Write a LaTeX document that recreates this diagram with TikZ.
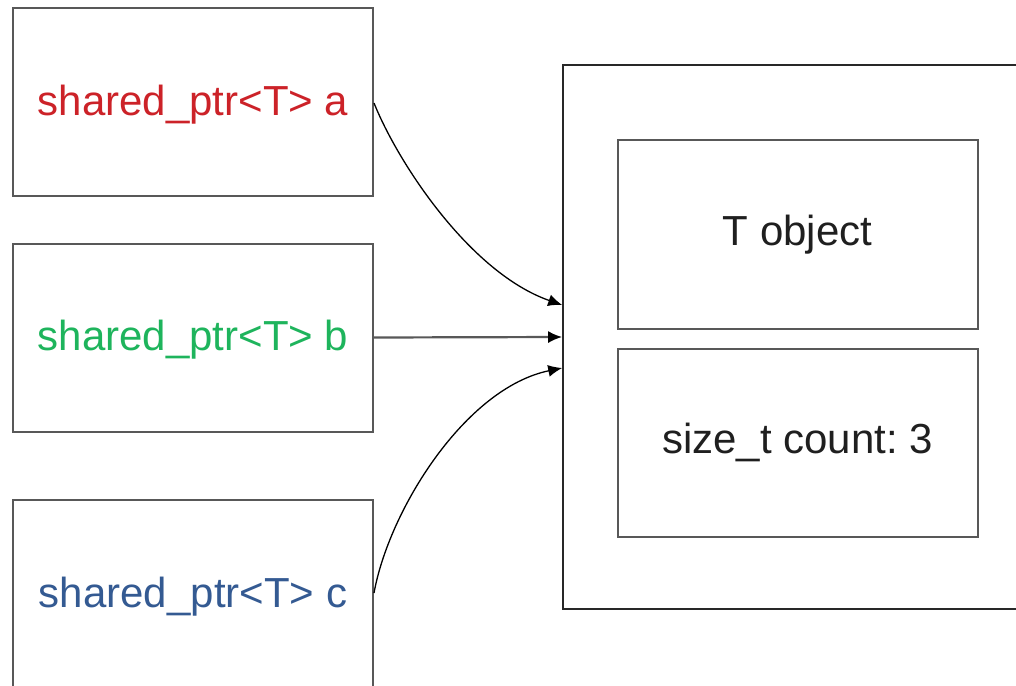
\documentclass[tikz,border=0pt]{standalone}
\usepackage{fontspec}
\setmainfont{Liberation Sans}
\usetikzlibrary{arrows.meta,calc}
\frenchspacing

\definecolor{ptrred}{RGB}{204,34,40}
\definecolor{ptrgreen}{RGB}{30,180,92}
\definecolor{ptrblue}{RGB}{52,90,146}
\definecolor{frame}{RGB}{88,88,88}
\definecolor{outer}{RGB}{40,40,40}

\tikzset{
  ptrbox/.style={draw=frame, line width=2pt, rectangle, inner sep=0pt,
    minimum width=360pt, minimum height=188pt,
    font=\fontsize{42}{50}\selectfont, text height=30pt, text depth=4pt},
  cellbox/.style={draw=frame, line width=2pt, rectangle, inner sep=0pt,
    minimum width=360pt, minimum height=189pt,
    font=\fontsize{42}{50}\selectfont, text=black!88, text height=30pt, text depth=9pt},
  blockbox/.style={draw=outer, line width=1.6pt, rectangle, inner sep=0pt},
  link/.style={draw=black, line width=1.3pt, -{Latex[length=14pt,width=12pt]}},
  straightlink/.style={draw=frame, line width=2.2pt, -{Latex[length=14pt,width=12pt,fill=black,color=black]}}
}

\begin{document}
\begin{tikzpicture}[x=1pt, y=-1pt]
  \useasboundingbox (0,0) rectangle (1016,685);
  \clip (0,0) rectangle (1016,685);

  % the three pointers
  \node[ptrbox, text=ptrred]   (a) at (193,102)   {shared\_ptr<T> a};
  \node[ptrbox, text=ptrgreen] (b) at (193,337.5) {shared\_ptr<T> b};
  \node[ptrbox, text=ptrblue]  (c) at (193,594)   {shared\_ptr<T> c};

  % the control block holding the object and its count
  \node[blockbox, minimum width=470pt, minimum height=544pt] (blk) at (798,337) {};
  \node[cellbox] (obj) at (797.5,234.5) {T object};
  \node[cellbox, minimum height=188pt] (cnt) at (797.5,443) {size\_t count: 3};

  % where the pointers land on the block
  \coordinate (ta) at ($(blk.west)+(0,-32)$);
  \coordinate (tb) at (blk.west);
  \coordinate (tc) at ($(blk.west)+(0,31)$);

  \draw[link] ($(a.east)+(0,1)$) .. controls +(24,60) and +(-92,-32) .. (ta);
  \draw[straightlink] (b.east) -- (tb);
  \draw[link] ($(c.east)+(0,-1)$) .. controls +(15,-83) and +(-97,20) .. (tc);
\end{tikzpicture}
\end{document}
